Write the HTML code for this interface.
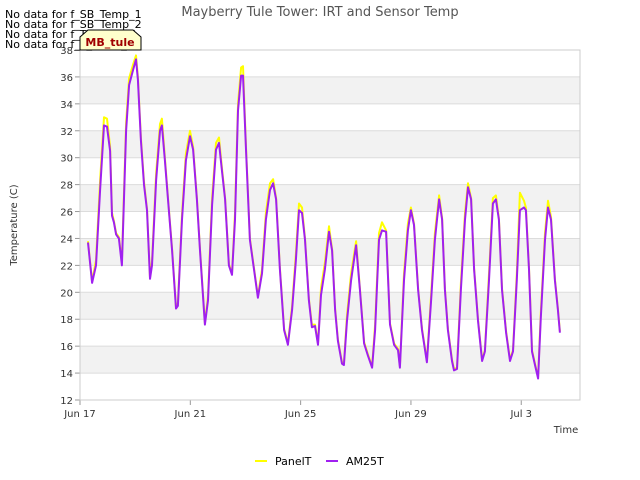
<!DOCTYPE html>
<html><head><meta charset="utf-8"><style>
body{margin:0;background:#fff;}
svg{display:block;font-family:"DejaVu Sans","Liberation Sans",sans-serif;}
</style></head><body>
<svg id="chart" width="640" height="480" viewBox="0 0 640 480">
<text x="320" y="16" text-anchor="middle" font-size="13" fill="#555">Mayberry Tule Tower: IRT and Sensor Temp</text>
<g id="bands"></g>
<g id="yticks"></g>
<g id="xticks"></g>
<rect x="80" y="50" width="500" height="350" fill="none" stroke="#ccc"/>
<g id="series"></g>
<text transform="translate(17,225) rotate(-90)" text-anchor="middle" font-size="10" fill="#333">Temperature (C)</text>
<text x="566" y="433" text-anchor="middle" font-size="10" fill="#333">Time</text>
<g font-size="11" fill="#000">
<text x="5" y="18">No data for f_SB_Temp_1</text>
<text x="5" y="28">No data for f_SB_Temp_2</text>
<text x="5" y="38">No data for f_T_Temp_1</text>
<text x="5" y="48">No data for f_T_Temp_2</text>
</g>
<g>
<path d="M80,50 L80,37 L88,30 L133,30 L141,37 L141,50 Z" fill="#ffffcc" stroke="#000" stroke-width="1"/>
<text x="110" y="46" text-anchor="middle" font-size="11" font-weight="bold" fill="#a00000">MB_tule</text>
</g>
<g>
<line x1="255" y1="461" x2="267" y2="461" stroke="#ffff00" stroke-width="2"/>
<text x="275" y="465" font-size="11" fill="#000">PanelT</text>
<line x1="326" y1="461" x2="338" y2="461" stroke="#a020f0" stroke-width="2"/>
<text x="346" y="465" font-size="11" fill="#000">AM25T</text>
</g>
</svg>
<script>
const yTicks=[12,14,16,18,20,22,24,26,28,30,32,34,36,38];
const xTickDays=[0,4,8,12,16];
const xTickLabels=["Jun 17","Jun 21","Jun 25","Jun 29","Jul 3"];
const timeDays=[0.29,0.44,0.58,0.73,0.87,0.98,1.09,1.16,1.23,1.31,1.41,1.52,1.67,1.78,1.92,2.03,2.10,2.21,2.32,2.43,2.54,2.61,2.76,2.90,2.97,3.08,3.19,3.34,3.48,3.55,3.70,3.84,3.99,4.10,4.24,4.35,4.53,4.64,4.79,4.93,5.04,5.15,5.26,5.40,5.51,5.62,5.73,5.84,5.91,6.02,6.16,6.31,6.45,6.60,6.74,6.89,7.00,7.11,7.25,7.40,7.54,7.69,7.83,7.94,8.05,8.16,8.30,8.41,8.52,8.63,8.74,8.88,9.03,9.14,9.25,9.35,9.50,9.57,9.68,9.83,10.01,10.15,10.30,10.44,10.59,10.70,10.84,10.95,11.10,11.24,11.39,11.53,11.60,11.75,11.89,12.00,12.11,12.26,12.40,12.58,12.73,12.87,13.02,13.13,13.23,13.34,13.49,13.56,13.67,13.81,13.96,14.07,14.18,14.29,14.43,14.58,14.68,14.83,14.97,15.08,15.19,15.30,15.45,15.59,15.70,15.84,15.95,16.10,16.17,16.28,16.39,16.50,16.61,16.71,16.86,16.97,17.08,17.22,17.33,17.40];
const am25t=[23.7,20.7,22.0,27.6,32.4,32.3,30.5,25.7,25.2,24.3,24.0,22.0,32.0,35.4,36.5,37.3,35.8,31.3,28.0,26.1,21.0,22.0,28.3,32.0,32.4,29.8,26.9,23.1,18.8,19.0,25.4,29.8,31.6,30.6,26.9,23.1,17.6,19.4,26.5,30.6,31.1,29.0,26.9,22.0,21.3,25.4,33.5,36.1,36.1,30.6,23.9,21.7,19.6,21.4,25.4,27.6,28.1,26.9,21.7,17.2,16.1,18.7,22.4,26.1,25.9,23.9,19.4,17.4,17.5,16.1,19.8,21.7,24.5,23.1,18.7,16.4,14.7,14.6,17.9,20.9,23.5,20.2,16.2,15.3,14.4,17.2,23.9,24.6,24.5,17.6,16.1,15.7,14.4,20.9,24.6,26.1,25.0,20.2,17.2,14.8,19.4,23.9,26.9,25.4,20.2,17.2,14.9,14.2,14.3,20.2,25.4,27.8,26.9,21.7,17.9,14.9,15.6,20.9,26.6,26.9,25.4,20.2,17.0,14.9,15.6,20.9,26.1,26.3,26.1,21.7,15.6,14.6,13.6,18.1,23.9,26.3,25.4,20.9,18.7,17.0];
const panelT=[23.8,20.8,22.4,28.3,33.0,32.9,30.8,25.9,25.3,24.4,24.1,22.3,32.6,35.9,36.9,37.6,36.0,31.5,28.2,26.2,21.1,22.3,28.8,32.5,32.9,30.0,27.0,23.2,18.9,19.2,25.8,30.3,32.0,30.8,27.0,23.2,17.7,19.7,27.0,31.1,31.5,29.2,27.0,22.1,21.4,25.9,34.0,36.7,36.8,30.8,24.0,21.8,19.7,21.7,25.9,28.1,28.4,27.0,21.8,17.3,16.2,19.0,22.9,26.6,26.3,24.0,19.5,17.6,17.6,16.2,20.3,22.2,24.9,23.2,18.8,16.5,14.8,14.7,18.3,21.4,23.8,20.3,16.3,15.4,14.5,17.6,24.4,25.2,24.6,17.7,16.2,15.8,14.5,21.4,25.1,26.3,25.1,20.3,17.3,14.9,19.8,24.4,27.2,25.5,20.3,17.3,15.0,14.3,14.4,20.7,25.9,28.1,27.0,21.8,18.0,15.0,15.7,21.4,27.0,27.2,25.5,20.3,17.1,15.0,15.7,21.4,27.4,26.8,26.3,21.8,15.7,14.7,13.7,18.5,24.4,26.8,25.6,21.0,18.8,17.1];
const NS="http://www.w3.org/2000/svg";
const X0=80,X1=580,Y0=400,Y1=50,DMAX=18.13,VMIN=12,VMAX=38;
function xs(d){return X0+(d/DMAX)*(X1-X0);}
function ys(v){return Y0-(v-VMIN)/(VMAX-VMIN)*(Y0-Y1);}
function mk(tag,attrs,parent){const e=document.createElementNS(NS,tag);for(const k in attrs)e.setAttribute(k,attrs[k]);parent.appendChild(e);return e;}
const bands=document.getElementById('bands'),yt=document.getElementById('yticks'),xt=document.getElementById('xticks'),ser=document.getElementById('series');
for(let i=0;i<yTicks.length-1;i++){
 if(i%2===1){const r=mk('rect',{x:X0,y:ys(yTicks[i+1]),width:X1-X0,height:ys(yTicks[i])-ys(yTicks[i+1]),fill:'#f2f2f2'},bands);
 
 }
}
yTicks.forEach(v=>{
 const l=mk('line',{x1:X0,x2:X1,y1:ys(v),y2:ys(v),stroke:'#dcdcdc'},yt);
 
 
 const tk=mk('line',{x1:X0-5,x2:X0,y1:ys(v),y2:ys(v),stroke:'#999'},yt);
 
 
 const t=mk('text',{x:X0-7,y:ys(v)+4,'text-anchor':'end','font-size':'10',fill:'#333'},yt);
 t.textContent=v;
 
 
});
xTickDays.forEach((d,i)=>{
 const tk=mk('line',{x1:xs(d),x2:xs(d),y1:Y0,y2:Y0+5,stroke:'#999'},xt);
 
 
 const t=mk('text',{x:xs(d),y:Y0+17,'text-anchor':'middle','font-size':'10',fill:'#333'},xt);
 t.textContent=xTickLabels[i];
 
 
});
function line(vals,color,name){
 const d=vals.map((v,i)=>(i?'L':'M')+xs(timeDays[i]).toFixed(1)+','+ys(v).toFixed(1)).join('');
 const p=mk('path',{d:d,fill:'none',stroke:color,'stroke-width':'2','stroke-linejoin':'round'},ser);
 
 
}
line(panelT,'#ffff00','panelt-line');
line(am25t,'#a020f0','am25t-line');
</script>
</body></html>
